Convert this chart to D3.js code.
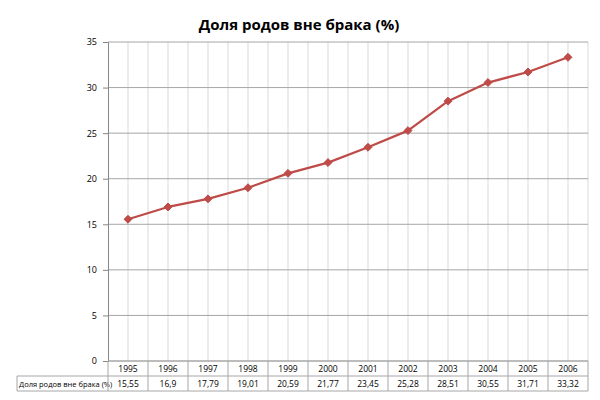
<!DOCTYPE html>
<html>
<head>
<meta charset="utf-8">
<script src="https://cdn.jsdelivr.net/npm/d3@7"></script>
<style>
  body { margin: 0; background: #fff; }
  text { font-family: "Open Sans", "Noto Sans", sans-serif; }
</style>
</head>
<body>
<div id="chart"></div>
<script>
// chart data
const years = ["1995", "1996", "1997", "1998", "1999", "2000", "2001", "2002", "2003", "2004", "2005", "2006"];
const shares = [15.55, 16.9, 17.79, 19.01, 20.59, 21.77, 23.45, 25.28, 28.51, 30.55, 31.71, 33.32];
const shareLabels = ["15,55", "16,9", "17,79", "19,01", "20,59", "21,77", "23,45", "25,28", "28,51", "30,55", "31,71", "33,32"];
const yTicks = [0, 5, 10, 15, 20, 25, 30, 35];
const chartTitle = "Доля родов вне брака (%)";
const seriesName = "Доля родов вне брака (%)";

const width = 600, height = 400;
const margin = {top: 42, right: 12, bottom: 39, left: 108};
const plotW = width - margin.left - margin.right;
const plotH = height - margin.top - margin.bottom;

const svg = d3.select("#chart").append("svg")
    .attr("width", width)
    .attr("height", height);

// title
svg.append("text")
    .attr("x", 299)
    .attr("y", 30)
    .attr("text-anchor", "middle")
    .style("font-size", "15px")
    .style("font-weight", "bold")
    .text(chartTitle);

const g = svg.append("g")
    .attr("transform", `translate(${margin.left},${margin.top})`);

const x = d3.scaleBand().domain(years).range([0, plotW]);
const y = d3.scaleLinear().domain([0, 35]).range([plotH, 0]);

// vertical grid: band edges and centres
const vLines = [];
years.forEach(yr => {
    vLines.push(x(yr) + x.bandwidth() / 2);
    vLines.push(x(yr) + x.bandwidth());
});
g.append("g").selectAll("line")
    .data(vLines)
    .enter().append("line")
    .attr("x1", d => d).attr("x2", d => d)
    .attr("y1", 0).attr("y2", plotH)
    .attr("stroke", "#d9d9d9")
    .attr("stroke-width", 1);

// horizontal grid
g.append("g").selectAll("line")
    .data(yTicks)
    .enter().append("line")
    .attr("x1", 0).attr("x2", plotW)
    .attr("y1", d => y(d)).attr("y2", d => y(d))
    .attr("stroke", "#a6a6a6")
    .attr("stroke-width", 1);

// y axis
const yAxis = g.append("g")
    .call(d3.axisLeft(y).tickValues(yTicks).tickSize(5).tickPadding(6));
yAxis.select(".domain").attr("stroke", "#868686");
yAxis.selectAll(".tick line").attr("stroke", "#868686");
yAxis.selectAll(".tick text")
    .style("font-size", "9px")
    .attr("fill", "#000");

// data table
const rowH = 15;
const table = g.append("g").attr("transform", `translate(0,${plotH})`);
const tableColor = "#a6a6a6";

// header row (years)
table.selectAll(".yr")
    .data(years)
    .enter().append("text")
    .attr("class", "yr")
    .attr("x", d => x(d) + x.bandwidth() / 2)
    .attr("y", rowH / 2 + 3)
    .attr("text-anchor", "middle")
    .style("font-size", "8.5px")
    .text(d => d);

// value row
table.selectAll(".val")
    .data(shareLabels)
    .enter().append("text")
    .attr("class", "val")
    .attr("x", (d, i) => x(years[i]) + x.bandwidth() / 2)
    .attr("y", rowH + rowH / 2 + 3)
    .attr("text-anchor", "middle")
    .style("font-size", "8.5px")
    .text(d => d);

// series name cell
table.append("text")
    .attr("x", -89)
    .attr("y", rowH + rowH / 2 + 3)
    .style("font-size", "7.5px")
    .text(seriesName);

// table borders
table.append("line")
    .attr("x1", 0).attr("x2", plotW)
    .attr("y1", 0).attr("y2", 0)
    .attr("stroke", tableColor);
table.append("line")
    .attr("x1", -91).attr("x2", plotW)
    .attr("y1", rowH).attr("y2", rowH)
    .attr("stroke", tableColor);
table.append("line")
    .attr("x1", -91).attr("x2", plotW)
    .attr("y1", 2 * rowH).attr("y2", 2 * rowH)
    .attr("stroke", tableColor);
table.append("line")
    .attr("x1", -91).attr("x2", -91)
    .attr("y1", rowH).attr("y2", 2 * rowH)
    .attr("stroke", tableColor);
table.selectAll(".col")
    .data([0].concat(years.map(d => x(d) + x.bandwidth())))
    .enter().append("line")
    .attr("class", "col")
    .attr("x1", d => d).attr("x2", d => d)
    .attr("y1", 0).attr("y2", 2 * rowH)
    .attr("stroke", tableColor);

// series line
const lineColor = "#be4b48";
const line = d3.line()
    .x((d, i) => x(years[i]) + x.bandwidth() / 2)
    .y(d => y(d));

g.append("path")
    .datum(shares)
    .attr("fill", "none")
    .attr("stroke", lineColor)
    .attr("stroke-width", 2.25)
    .attr("stroke-linejoin", "round")
    .attr("d", line);

g.selectAll(".marker")
    .data(shares)
    .enter().append("path")
    .attr("class", "marker")
    .attr("d", d3.symbol().type(d3.symbolDiamond2).size(40))
    .attr("transform", (d, i) => `translate(${x(years[i]) + x.bandwidth() / 2},${y(d)})`)
    .attr("fill", lineColor)
    .attr("stroke", lineColor);
</script>
</body>
</html>
